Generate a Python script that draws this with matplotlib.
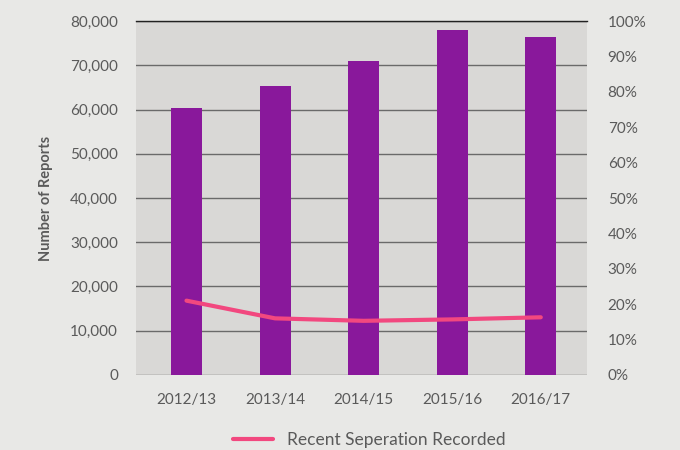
import numpy as np
import matplotlib.pyplot as plt
from matplotlib.ticker import FuncFormatter

years = ['2012/13', '2013/14', '2014/15', '2015/16', '2016/17']
reports = [60400, 65200, 70900, 77900, 76500]
separation_pct = [21.0, 16.0, 15.3, 15.7, 16.3]

bar_color = '#89189b'
line_color = '#f2487f'
text_color = '#5a5a5a'

plt.rcParams['font.family'] = ['Lato', 'DejaVu Sans']

fig = plt.figure(figsize=(6.8, 4.5), dpi=100)
fig.patch.set_facecolor('#e8e8e6')
ax = fig.add_axes([0.2, 0.1667, 0.663, 0.7866])
ax.set_facecolor('#d9d8d6')

x = np.arange(len(years))
ax.bar(x, reports, width=0.35, color=bar_color, zorder=3)
ax.set_xlim(-0.57, 4.52)
ax.set_ylim(0, 80000)
ax.set_yticks(np.arange(0, 80001, 10000))
ax.yaxis.set_major_formatter(FuncFormatter(lambda v, p: f'{int(v):,}'))
ax.set_xticks(x)
ax.set_xticklabels(years)
ax.grid(axis='y', color='#6a6a6a', linewidth=1.0, zorder=1)
ax.tick_params(length=0, labelsize=11, colors=text_color)
ax.tick_params(axis='x', pad=13)
ax.tick_params(axis='y', pad=13)
for s in ['left', 'right', 'bottom']:
    ax.spines[s].set_visible(False)
ax.spines['top'].set_color('#222222')
ax.spines['top'].set_linewidth(1.0)
ax.set_ylabel('Number of Reports', fontsize=10.5, fontweight='bold',
              color=text_color, labelpad=12)

ax2 = ax.twinx()
ax2.plot(x, separation_pct, color=line_color, linewidth=3,
         solid_capstyle='round', label='Recent Seperation Recorded')
ax2.set_ylim(0, 100)
ax2.set_yticks(np.arange(0, 101, 10))
ax2.yaxis.set_major_formatter(FuncFormatter(lambda v, p: f'{int(v)}%'))
ax2.tick_params(length=0, labelsize=11, colors=text_color, pad=15)
for s in ['left', 'right', 'bottom', 'top']:
    ax2.spines[s].set_visible(False)

leg = fig.legend(loc='lower center', bbox_to_anchor=(0.543, -0.03),
                 frameon=False, fontsize=12.5, handlelength=2.3,
                 handletextpad=0.8)
for t in leg.get_texts():
    t.set_color(text_color)

fig.savefig('out.png', dpi=100, facecolor=fig.get_facecolor())
